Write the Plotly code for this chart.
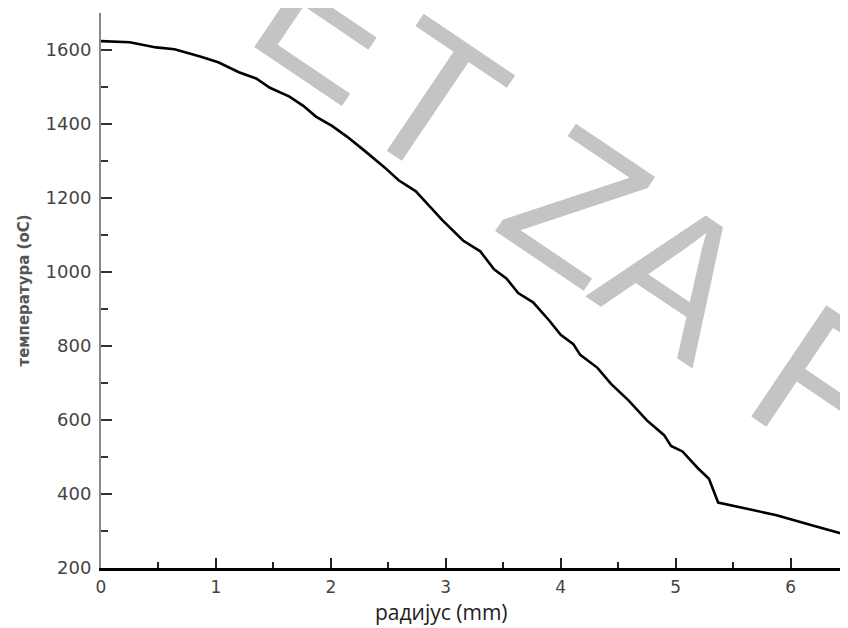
import plotly.graph_objects as go

# radius (mm) and temperature (oC)
radius = [0.0, 0.25, 0.48, 0.64, 0.87, 1.02, 1.20, 1.35, 1.47, 1.64, 1.76, 1.87,
          2.01, 2.14, 2.30, 2.47, 2.59, 2.74, 2.84, 2.97, 3.15, 3.30, 3.42, 3.53,
          3.63, 3.76, 3.90, 4.00, 4.11, 4.17, 4.32, 4.44, 4.59, 4.75, 4.90, 4.96,
          5.06, 5.19, 5.29, 5.37, 5.58, 5.87, 6.20, 6.50]
temperature = [1624, 1621, 1607, 1602, 1582, 1567, 1540, 1523, 1498, 1474, 1449, 1420,
               1395, 1366, 1326, 1282, 1248, 1218, 1184, 1140, 1085, 1056, 1007, 982,
               943, 918, 869, 830, 805, 776, 741, 697, 653, 599, 559, 530,
               515, 471, 441, 377, 363, 343, 314, 288]

x_ticks = [0, 1, 2, 3, 4, 5, 6]
y_ticks = [200, 400, 600, 800, 1000, 1200, 1400, 1600]

x_title = "радијус (mm)"
y_title = "температура (oC)"

# watermark letters (page pixel centres)
wm_letters = ["E", "T", "Z", "A", "F"]
wm_px = [(333, 18), (432, 99), (577, 204), (677, 276), (825, 384)]

# page has an 8px body margin; figure sized to fit the window
OFF = 8
W, H = 840, 620
PL, PT, PR, PB = 101, 13, 848, 568          # plot area in page pixels
L, T = PL - OFF, PT - OFF
R = W - (PR - OFF)
B = H - (PB - OFF)
pw = PR - PL
ph = PB - PT

fig = go.Figure()
fig.add_trace(go.Scatter(x=radius, y=temperature, mode="lines",
                         line=dict(color="black", width=2.6), showlegend=False))

annotations = []
for ch, (px, py) in zip(wm_letters, wm_px):
    annotations.append(dict(
        text=ch, x=(px - PL) / pw, y=(PB - py) / ph, xref="paper", yref="paper",
        showarrow=False, textangle=34, xanchor="center", yanchor="middle",
        font=dict(family="Liberation Sans", size=195, color="#c4c4c4")))

# x-axis title (placed where the reference shows it)
annotations.append(dict(
    text=x_title, x=(441 - PL) / pw, y=(PB - 612) / ph, xref="paper", yref="paper",
    showarrow=False, xanchor="center", yanchor="middle",
    font=dict(family="Open Sans", size=21, color="#222")))

fig.update_layout(
    width=W, height=H,
    margin=dict(l=L, r=R, t=T, b=B),
    paper_bgcolor="white", plot_bgcolor="white",
    annotations=annotations,
    xaxis=dict(range=[0, 6.5], tickvals=x_ticks, ticks="inside", ticklen=10,
               tickwidth=1.5, tickcolor="#222", automargin=False,
               minor=dict(ticks="inside", ticklen=6, dtick=0.5, tick0=0,
                          tickcolor="#222", tickwidth=1.5),
               showline=True, linecolor="black", linewidth=3, showgrid=False,
               zeroline=False, ticklabelstandoff=2,
               tickfont=dict(family="DejaVu Sans", size=17, color="#444")),
    yaxis=dict(range=[200, 1700], tickvals=y_ticks, ticks="inside", ticklen=11,
               tickwidth=1.5, tickcolor="#333", automargin=False,
               minor=dict(ticks="inside", ticklen=7, dtick=100, tick0=200,
                          tickcolor="#333", tickwidth=1.5),
               showline=True, linecolor="#888", linewidth=2, showgrid=False,
               zeroline=False, ticklabelstandoff=4,
               tickfont=dict(family="DejaVu Sans", size=18, color="#444"),
               title=dict(text=y_title, standoff=12,
                          font=dict(family="DejaVu Sans", size=15, color="#555",
                                    weight="bold"))),
)

fig.write_html("out.html")
